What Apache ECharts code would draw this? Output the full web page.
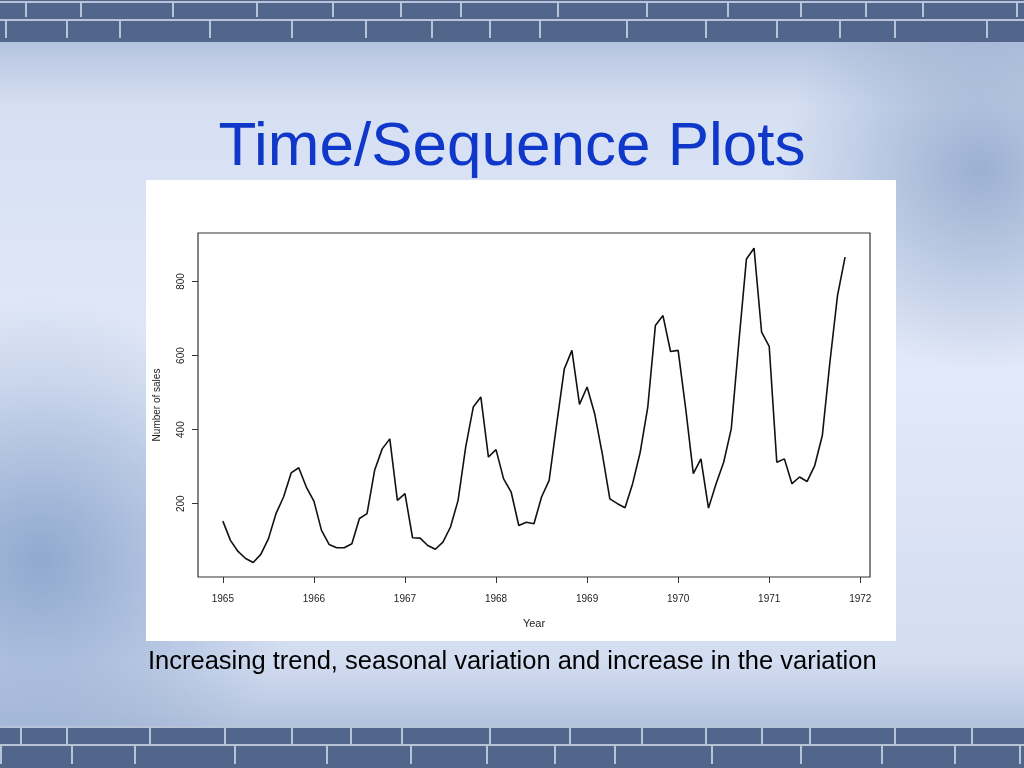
<!DOCTYPE html>
<html>
<head>
<meta charset="utf-8">
<title>Time/Sequence Plots</title>
<script src="https://cdn.jsdelivr.net/npm/echarts@6/dist/echarts.min.js"></script>
<style>
  html, body { margin: 0; padding: 0; }
  #sales { width: 1024px; height: 768px; }
</style>
</head>
<body>
<div id="sales"></div>
<script>
// monthly sales, Jan 1965 - Nov 1971
const startYear = 1965
const sales1965 = [153, 101, 71, 52, 41, 63, 105, 173, 218, 283, 297, 245]
const sales1966 = [207, 128, 90, 81, 81, 92, 160, 173, 290, 348, 375, 209]
const sales1967 = [227, 108, 107, 87, 77, 96, 137, 209, 353, 461, 488, 326]
const sales1968 = [346, 267, 231, 141, 150, 146, 218, 263, 416, 564, 614, 468]
const sales1969 = [515, 443, 335, 213, 200, 189, 254, 339, 461, 681, 708, 611]
const sales1970 = [614, 456, 281, 321, 188, 254, 312, 402, 636, 861, 890, 663]
const sales1971 = [625, 312, 321, 254, 272, 260, 303, 384, 582, 762, 866]
const yearTicks = [1965, 1966, 1967, 1968, 1969, 1970, 1971, 1972]
const salesTicks = [200, 400, 600, 800]

let allSales = [].concat(sales1965, sales1966, sales1967, sales1968, sales1969, sales1970, sales1971)
let seriesData = allSales.map((v, i) => [startYear + i / 12, v])

// slide background: brick bands top and bottom
function brickBand(y0, rows) {
  let els = [{ type: 'rect', z: -10, shape: { x: 0, y: y0, width: 1024, height: 42 }, style: { fill: '#52658a' } }]
  rows.forEach((r, k) => {
    els.push({ type: 'rect', z: -10, shape: { x: 0, y: r.y - 2, width: 1024, height: 2 }, style: { fill: '#c9d3e4', opacity: 0.85 } })
    let x = r.off
    let n = 0
    while (x < 1024) {
      els.push({ type: 'rect', z: -10, shape: { x: x, y: r.y, width: 2, height: r.h }, style: { fill: '#c9d3e4', opacity: 0.85 } })
      x += r.w + ((n * 37 + k * 13) % 45)
      n++
    }
  })
  return els
}

let bgElements = [
  {
    type: 'rect', z: -10,
    shape: { x: 0, y: 0, width: 1024, height: 768 },
    style: {
      fill: new echarts.graphic.LinearGradient(0, 0, 0, 1, [
        { offset: 0, color: '#9fb2d0' },
        { offset: 0.14, color: '#d6e0f3' },
        { offset: 0.5, color: '#e2e9f8' },
        { offset: 0.86, color: '#d3ddf1' },
        { offset: 1, color: '#9fb2d0' }
      ])
    }
  },
  {
    type: 'circle', z: -10,
    shape: { cx: 40, cy: 560, r: 260 },
    style: {
      fill: new echarts.graphic.RadialGradient(0.5, 0.5, 0.5, [
        { offset: 0, color: 'rgba(120,150,195,0.75)' },
        { offset: 1, color: 'rgba(120,150,195,0)' }
      ])
    }
  },
  {
    type: 'circle', z: -10,
    shape: { cx: 980, cy: 170, r: 200 },
    style: {
      fill: new echarts.graphic.RadialGradient(0.5, 0.5, 0.5, [
        { offset: 0, color: 'rgba(130,155,195,0.7)' },
        { offset: 1, color: 'rgba(130,155,195,0)' }
      ])
    }
  }
]
bgElements = bgElements.concat(
  brickBand(0, [{ y: 3, h: 14, w: 55, off: 25 }, { y: 21, h: 17, w: 48, off: 5 }]),
  brickBand(726, [{ y: 728, h: 16, w: 46, off: 20 }, { y: 746, h: 18, w: 58, off: 0 }])
)

let myChart = echarts.init(document.getElementById('sales'))
let option = {
  animation: false,
  graphic: bgElements.concat([
    // white plot panel
    { type: 'rect', z: -5, shape: { x: 146, y: 180, width: 750, height: 461 }, style: { fill: '#ffffff' } },
    {
      type: 'text', z: 5, x: 512, y: 179,
      style: { text: 'Time/Sequence Plots', fontFamily: 'Liberation Sans, Arial, sans-serif', fontSize: 62, fill: '#0f37c9', align: 'center', verticalAlign: 'bottom' }
    },
    {
      type: 'text', z: 5, x: 148, y: 662,
      style: { text: 'Increasing trend, seasonal variation and increase in the variation', fontFamily: 'Liberation Sans, Arial, sans-serif', fontSize: 25.5, fill: '#000000', align: 'left', verticalAlign: 'middle' }
    }
  ]),
  grid: {
    left: 198,
    top: 233,
    right: 154,
    bottom: 191,
    show: true,
    borderColor: '#333333',
    borderWidth: 1.2,
    backgroundColor: 'transparent'
  },
  xAxis: {
    type: 'value',
    min: 1964.727,
    max: 1972.107,
    name: 'Year',
    nameLocation: 'middle',
    nameGap: 41,
    nameTextStyle: { fontFamily: 'Liberation Sans, Arial', fontSize: 11, color: '#222' },
    axisLine: { show: false },
    axisTick: { show: true, length: 6, customValues: yearTicks, lineStyle: { color: '#333' } },
    axisLabel: { customValues: yearTicks, margin: 17, fontFamily: 'Liberation Sans, Arial', fontSize: 10, color: '#222', formatter: (v) => String(Math.round(v)) },
    splitLine: { show: false }
  },
  yAxis: {
    type: 'value',
    min: 2,
    max: 931,
    name: 'Number of sales',
    nameLocation: 'middle',
    nameGap: 36,
    nameTextStyle: { fontFamily: 'Liberation Sans, Arial', fontSize: 10, color: '#222' },
    axisLine: { show: false },
    axisTick: { show: true, length: 6, customValues: salesTicks, lineStyle: { color: '#333' } },
    axisLabel: { customValues: salesTicks, rotate: 90, margin: 12, fontFamily: 'Liberation Sans, Arial', fontSize: 10, color: '#222' },
    splitLine: { show: false }
  },
  series: [
    {
      name: 'Number of sales',
      type: 'line',
      data: seriesData,
      showSymbol: false,
      lineStyle: { color: '#111111', width: 1.6 }
    }
  ]
}
myChart.setOption(option, true)
</script>
</body>
</html>
